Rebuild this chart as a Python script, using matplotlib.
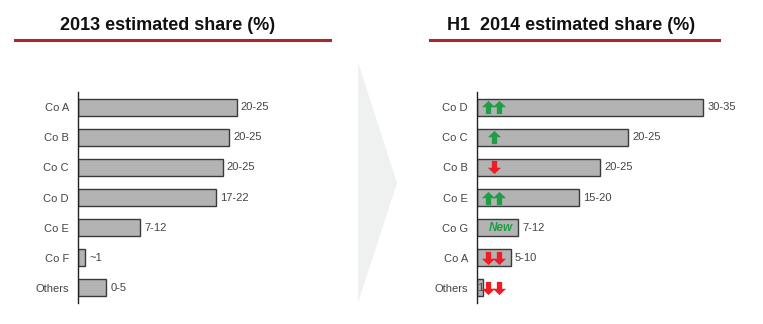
import matplotlib.pyplot as plt
from matplotlib.path import Path
from matplotlib.patches import Polygon
from matplotlib.lines import Line2D

plt.rcParams['font.family'] = ['Liberation Sans', 'DejaVu Sans']

left_cats = ['Co A', 'Co B', 'Co C', 'Co D', 'Co E', 'Co F', 'Others']
left_vals = [22.5, 21.4, 20.5, 19.5, 8.8, 1.0, 4.0]
left_labels = ['20-25', '20-25', '20-25', '17-22', '7-12', '~1', '0-5']

right_cats = ['Co D', 'Co C', 'Co B', 'Co E', 'Co G', 'Co A', 'Others']
right_vals = [32.1, 21.4, 17.5, 14.4, 5.8, 4.8, 0.85]
right_labels = ['30-35', '20-25', '20-25', '15-20', '7-12', '5-10', '']
right_trend = ['up2', 'up1', 'down1', 'up2', 'new', 'down2', 'down2']

W, H = 763, 324
fig = plt.figure(figsize=(W / 100, H / 100), dpi=100, facecolor='white')

BAR = '#b3b3b3'
EDGE = '#3a3a3a'
TXT = '#444444'
GREEN = '#1f9e48'
RED = '#ee1c24'

# arrow marker paths
up_path = Path([(-0.2, -0.5), (0.2, -0.5), (0.2, 0.02), (0.5, 0.02), (0, 0.5),
                (-0.5, 0.02), (-0.2, 0.02), (-0.2, -0.5)],
               [Path.MOVETO] + [Path.LINETO] * 6 + [Path.CLOSEPOLY])
down_path = Path([(x, -y) for x, y in up_path.vertices], up_path.codes)


def px_axes(left, top, right, bottom):
    return fig.add_axes([left / W, 1 - bottom / H, (right - left) / W, (bottom - top) / H])


def draw_panel(ax, cats, vals, labels):
    y = list(range(len(cats)))
    ax.barh(y, vals, height=0.56, color=BAR, edgecolor=EDGE, linewidth=1)
    ax.set_yticks(y)
    ax.set_yticklabels(cats, fontsize=8, color=TXT)
    ax.tick_params(axis='y', length=0, pad=6.5)
    ax.set_xticks([])
    ax.set_xlim(0, 36)
    ax.set_ylim(6.5, -0.5)
    for s in ['top', 'right', 'bottom']:
        ax.spines[s].set_visible(False)
    ax.spines['left'].set_color('#222222')
    ax.spines['left'].set_linewidth(1)
    for yi, v, lab in zip(y, vals, labels):
        if lab:
            ax.annotate(lab, (v, yi), xytext=(3, 0), textcoords='offset points',
                        va='center', ha='left', fontsize=8, color=TXT)
    ax.set_facecolor('none')


# chevron in the background
tri = [(358, 62), (397, 183), (358, 303)]
fig.patches.append(Polygon([(x / W, 1 - y / H) for x, y in tri], closed=True,
                           transform=fig.transFigure, facecolor='#eff1f1',
                           edgecolor='none', zorder=0))

ax1 = px_axes(78, 92, 332, 303)
draw_panel(ax1, left_cats, left_vals, left_labels)

ax2 = px_axes(477, 92, 731, 303)
draw_panel(ax2, right_cats, right_vals, right_labels)

# trend markers on the right panel
for yi, tr in enumerate(right_trend):
    if tr == 'new':
        ax2.text(3.45, yi, 'New', color=GREEN, fontsize=8.5, fontweight='bold',
                 style='italic', ha='center', va='center')
        continue
    path = up_path if tr.startswith('up') else down_path
    col = GREEN if tr.startswith('up') else RED
    xs = [1.55, 3.1] if tr.endswith('2') else [2.4]
    ax2.plot(xs, [yi] * len(xs), linestyle='none', marker=path, markersize=9.5,
             color=col, markeredgewidth=0)

ax2.text(right_vals[-1] / 2, 6, '1', ha='center', va='center', fontsize=8, color=TXT)

# titles and red rules
fig.text(168 / W, 1 - 25 / H, '2013 estimated share (%)', ha='center', va='center',
         fontsize=13, fontweight='bold', color='#111111')
fig.text(571 / W, 1 - 25 / H, 'H1  2014 estimated share (%)', ha='center', va='center',
         fontsize=13, fontweight='bold', color='#111111')
for x0, x1 in [(15, 330), (430, 719)]:
    fig.lines.append(Line2D([x0 / W, x1 / W], [1 - 40 / H] * 2, transform=fig.transFigure,
                            color='#a8282b', linewidth=2.2))

fig.savefig('out.png', dpi=100, facecolor='white')
